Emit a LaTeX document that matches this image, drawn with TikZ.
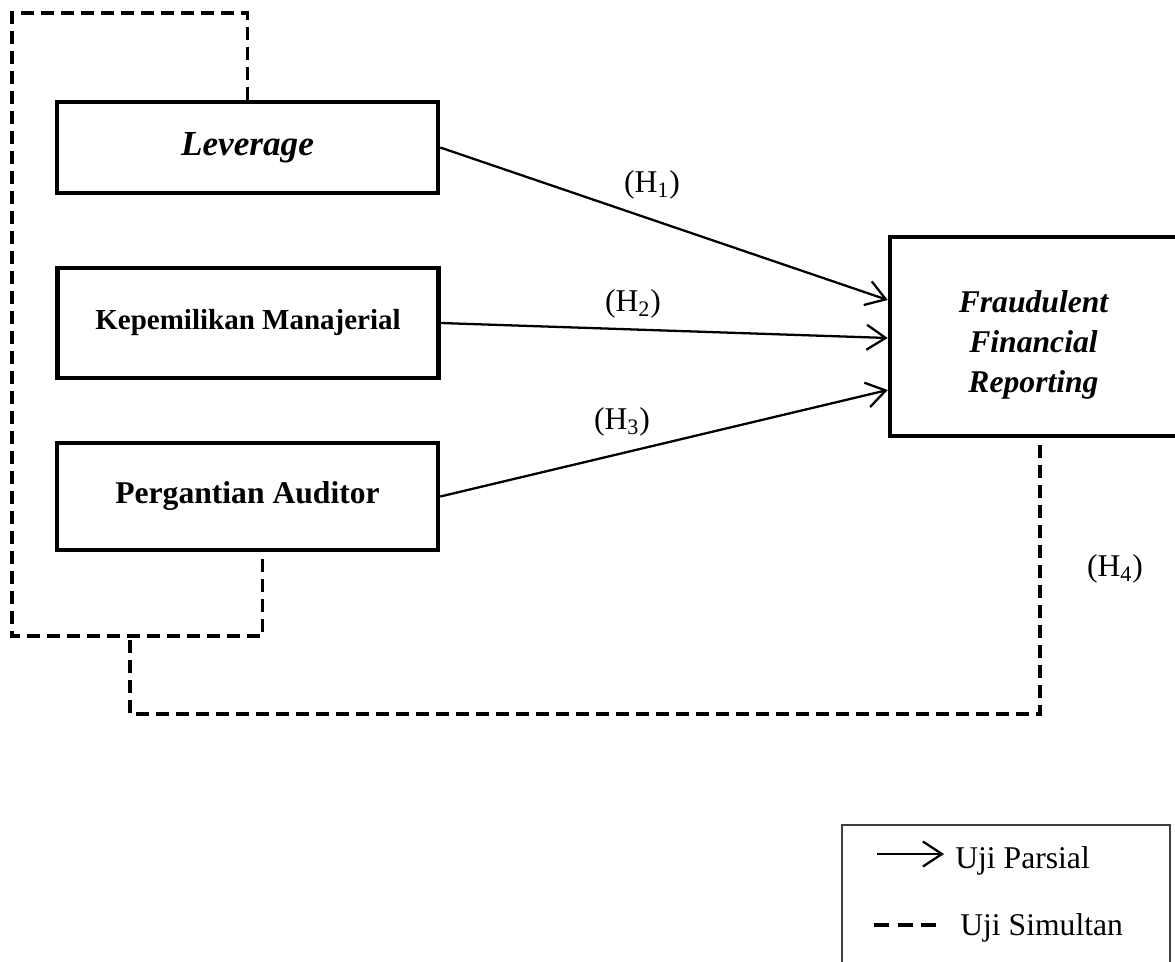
\documentclass[tikz,border=0pt]{standalone}
\usepackage{fontspec}
\setmainfont{Liberation Serif}
\usetikzlibrary{arrows.meta,calc}

\tikzset{
  varbox/.style={draw, line width=2.6pt, inner sep=0pt, minimum width=7.62cm,
    font=\bfseries\fontsize{18}{22}\selectfont},
  simul/.style={line width=2.1pt, dash pattern=on 0.26cm off 0.14cm},
  parsial/.style={line width=1.3pt, -{Straight Barb[length=0.38cm,width=0.5cm]}},
  hlabel/.style={font=\fontsize{18}{22}\selectfont},
  legtext/.style={anchor=west, inner sep=0pt, font=\fontsize{18}{22}\selectfont}
}

\begin{document}
\begin{tikzpicture}
\useasboundingbox (0,0) rectangle (23.5,-19.22);

\node[varbox, minimum height=1.82cm, font=\bfseries\itshape\fontsize{20}{24}\selectfont] (lev) at (4.95,-2.95) {Leverage};
\node[varbox, minimum height=2.2cm, font=\bfseries\fontsize{16.5}{20}\selectfont] (km) at (4.96,-6.46) {Kepemilikan Manajerial};
\node[varbox, minimum height=2.14cm] (pa) at (4.95,-9.93) {Pergantian Auditor};
\node[varbox, minimum width=5.74cm, minimum height=3.98cm] (ffr) at (20.67,-6.73) {};
\node[align=center, font=\bfseries\itshape\fontsize{18}{22.7}\selectfont] (ffrtext)
  at ($(ffr.center)+(0,-0.16)$) {Fraudulent\\Financial\\Reporting};

\draw[parsial] (lev.east) -- ($(ffr.west)+(0,0.73)$);
\draw[parsial] (km.east) -- ($(ffr.west)+(0,-0.03)$);
\draw[parsial] (pa.east) -- ($(ffr.west)+(0,-1.07)$);

\node[hlabel] (h1) at (13.04,-3.7) {(H\textsubscript{1})};
\node[hlabel] (h2) at (12.66,-6.08) {(H\textsubscript{2})};
\node[hlabel] (h3) at (12.44,-8.44) {(H\textsubscript{3})};
\node[hlabel] (h4) at (22.3,-11.38) {(H\textsubscript{4})};

\coordinate (top) at (0.24,-0.26);
\coordinate (low) at (0.24,-12.72);
\coordinate (bot) at (2.6,-14.28);
\coordinate (rgt) at (20.8,-14.28);
\draw[simul] (lev.north) |- (top) -- (low) -| ($(pa.south)+(0.3,-0.14)$);
\draw[simul] (2.6,-12.8) -- (bot) -- (rgt) -- (rgt |- ffr.south);

\draw[line width=0.8pt, black!75] (16.84,-16.5) rectangle (23.4,-19.5);
\coordinate (lp) at (17.54,-17.08);
\coordinate (ls) at (17.48,-18.5);
\node[legtext] (uparsial) at (19.1,-17.22) {Uji Parsial};
\node[legtext] (usimul) at (19.2,-18.56) {Uji Simultan};
\draw[parsial] (lp) -- ($(lp -| uparsial.west)+(-0.22,0)$);
\draw[simul, dash pattern=on 0.3cm off 0.17cm] (ls) -- ++(1.24,0);
\end{tikzpicture}
\end{document}
